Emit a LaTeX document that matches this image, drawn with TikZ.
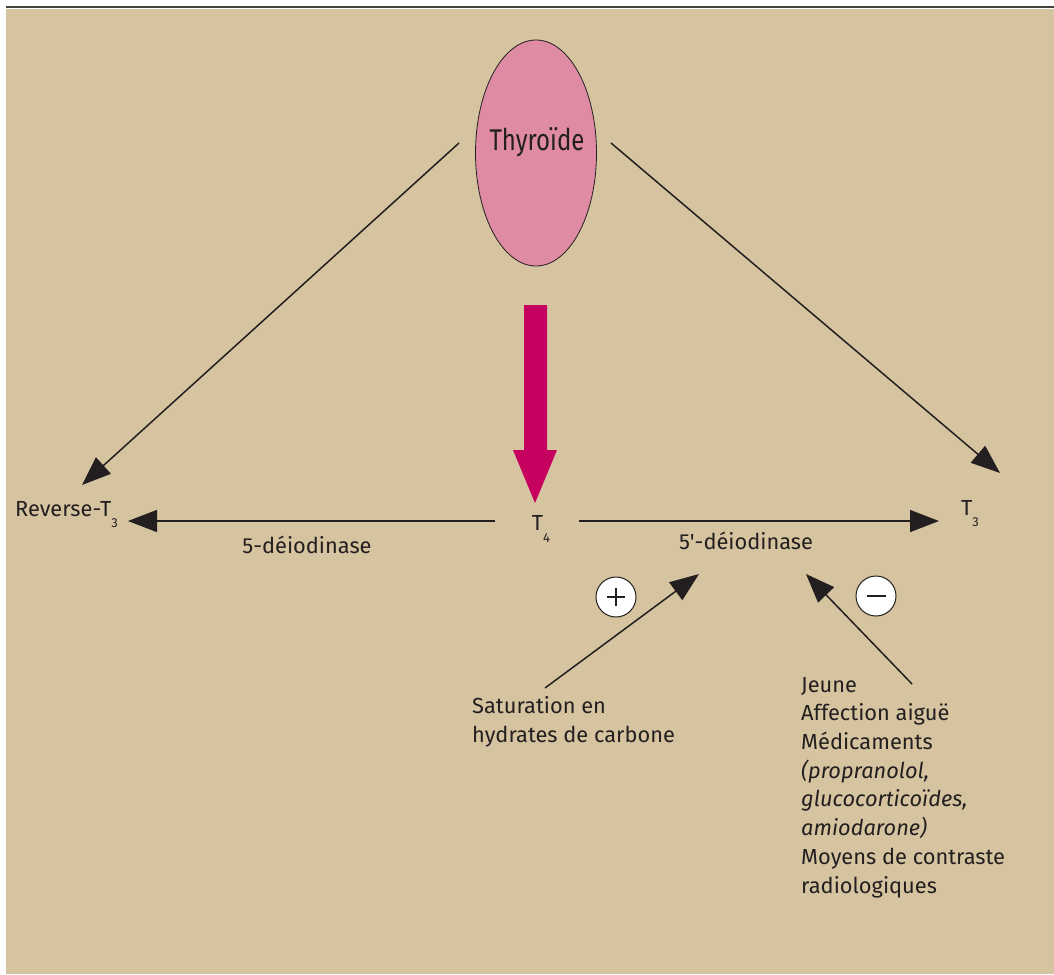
\documentclass[tikz,border=0pt]{standalone}
\usepackage{fontspec}
\setmainfont{Fira Sans}
\newfontfamily\condfont[FakeStretch=0.8]{Fira Sans}
\usetikzlibrary{arrows.meta,shapes.geometric}
\definecolor{beige}{HTML}{D5C49F}
\definecolor{pinkthy}{HTML}{E08BA4}
\definecolor{magarrow}{HTML}{C6005E}
\definecolor{ink}{HTML}{231F20}
\definecolor{rule}{HTML}{45423C}
\begin{document}
\begin{tikzpicture}[x=1pt,y=-1pt,
  every node/.style={text=ink},
  txt/.style={inner sep=0pt, font=\fontsize{21.8}{28.7}\selectfont},
  conn/.style={draw=ink, line width=1.5pt, -{Triangle[length=29pt,width=22pt]}},
  sign/.style={circle, draw=ink, line width=1pt, fill=white, minimum size=40pt, inner sep=0pt}]
\useasboundingbox (0,0) rectangle (1054,974);
\fill[white] (0,0) rectangle (1054,974);
\fill[beige] (6,9) rectangle (1054,974);
\draw[rule, line width=2pt] (6,7.5) -- (1054,7.5);

% thyroid
\node[ellipse, draw=ink, line width=0.8pt, fill=pinkthy, minimum width=121pt, minimum height=226pt, inner sep=0pt] (thy) at (536,153) {};
\node[inner sep=0pt, font=\condfont\fontsize{30}{30}\selectfont] (thytext) at (537,142) {Thyroïde};

% labels
\node[txt, anchor=base west] (rt3) at (15,516) {Reverse-T\raisebox{-11pt}{\fontsize{13}{13}\selectfont 3}};
\node[txt, anchor=base] (t4) at (541,530) {T\raisebox{-12pt}{\fontsize{13}{13}\selectfont 4}};
\node[txt, anchor=base west] (t3) at (961,515) {T\raisebox{-11pt}{\fontsize{13}{13}\selectfont 3}};
\node[txt, anchor=base] (d5) at (307,553) {5-déiodinase};
\node[txt, anchor=base] (d5p) at (746,549) {5\textquotesingle-déiodinase};

\node[sign, path picture={\draw[ink, line width=1.5pt] ([xshift=-9pt]path picture bounding box.center) -- ([xshift=9pt]path picture bounding box.center) ([yshift=-9pt]path picture bounding box.center) -- ([yshift=9pt]path picture bounding box.center);}] (plus) at (616,597) {};
\node[sign, path picture={\draw[ink, line width=2pt] ([xshift=-9.5pt]path picture bounding box.center) -- ([xshift=9.5pt]path picture bounding box.center);}] (minus) at (876,596) {};

\node[txt, anchor=base west, align=left] (sat) at (472,742) {Saturation en\\hydrates de carbone};
\node[txt, anchor=base west, align=left] (inh) at (801,893) {Jeune\\Affection aiguë\\Médicaments\\\textit{(propranolol,}\\\textit{glucocorticoïdes,}\\\textit{amiodarone)}\\Moyens de contraste\\radiologiques};

% connector ends
\coordinate (thyL) at (459,143);
\coordinate (thyR) at (611,143);
\coordinate (rt3tip) at (82,485);
\coordinate (t3tip) at (1000,473);
\coordinate (t4L) at (495,521);
\coordinate (t4R) at (579,521);
\coordinate (rt3h) at (128,521);
\coordinate (t3h) at (939,521);
\coordinate (satTop) at (545,688);
\coordinate (d5pL) at (699,574);
\coordinate (inhTop) at (912,684);
\coordinate (d5pR) at (806,574);

\draw[conn] (thyL) -- (rt3tip);
\draw[conn] (thyR) -- (t3tip);
\draw[conn] (t4L) -- (rt3h);
\draw[conn] (t4R) -- (t3h);
\draw[conn] (satTop) -- (d5pL);
\draw[conn] (inhTop) -- (d5pR);

% big magenta arrow
\coordinate (ma) at (535.5,305);
\fill[magarrow] ([xshift=-11.5pt]ma) -- ([xshift=11.5pt]ma) -- (547,450) -- (557,450) -- (535,503) -- (513,450) -- (524,450) -- cycle;
\end{tikzpicture}
\end{document}
